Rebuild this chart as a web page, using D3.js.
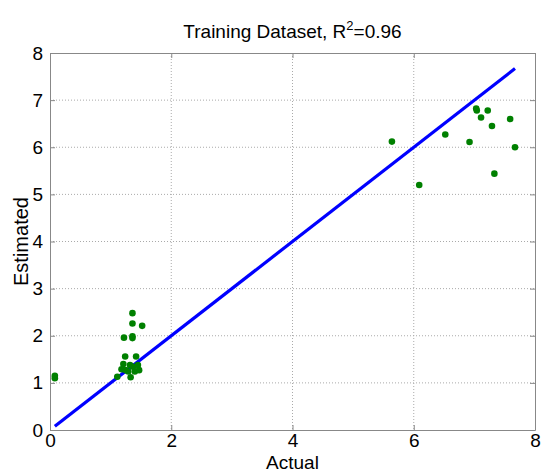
<!DOCTYPE html>
<html>
<head>
<meta charset="utf-8">
<script src="https://cdn.jsdelivr.net/npm/d3@7"></script>
<style>
  body { margin: 0; background: #fff; }
  text { font-family: "Liberation Sans", Arial, sans-serif; fill: #000; }
</style>
</head>
<body>
<div id="chart"></div>
<script>
// data
var actual = [0.08, 0.08, 1.11, 1.36, 1.36, 1.52, 1.22, 1.36, 1.36, 1.24, 1.42, 1.21, 1.32,
              1.18, 1.25, 1.37, 1.45, 1.47, 1.33, 1.40, 1.29,
              7.03, 7.04, 7.22, 7.11, 7.29, 7.59, 6.52, 6.92, 5.64, 7.67, 7.33, 6.09];
var estimated = [1.15, 1.10, 1.13, 2.48, 2.26, 2.21, 1.96, 1.99, 1.95, 1.56, 1.56, 1.40, 1.38,
                 1.29, 1.27, 1.34, 1.38, 1.27, 1.12, 1.24, 1.24,
                 6.82, 6.78, 6.78, 6.63, 6.45, 6.60, 6.27, 6.11, 6.12, 6.00, 5.44, 5.20];
var fitLine = [[0.08, 0.08], [7.67, 7.67]];
var xTicks = [0, 2, 4, 6, 8];
var yTicks = [0, 1, 2, 3, 4, 5, 6, 7, 8];

var margin = {top: 53, right: 7, bottom: 44, left: 50},
    width = 542 - margin.left - margin.right,
    height = 474 - margin.top - margin.bottom;

var x = d3.scaleLinear().domain([0, 8]).range([0, width]);
var y = d3.scaleLinear().domain([0, 8]).range([height, 0]);

var svg = d3.select("#chart").append("svg")
    .attr("width", 542)
    .attr("height", 474);

var g = svg.append("g")
    .attr("transform", "translate(" + margin.left + "," + margin.top + ")");

// grid
g.selectAll(".vgrid")
    .data(xTicks.slice(1, -1))
    .enter().append("line")
    .attr("x1", function(d) { return x(d); })
    .attr("x2", function(d) { return x(d); })
    .attr("y1", 0).attr("y2", height)
    .attr("stroke", "#aaa")
    .attr("stroke-width", 1)
    .attr("stroke-dasharray", "1,2");

g.selectAll(".hgrid")
    .data(yTicks.slice(1, -1))
    .enter().append("line")
    .attr("y1", function(d) { return y(d); })
    .attr("y2", function(d) { return y(d); })
    .attr("x1", 0).attr("x2", width)
    .attr("stroke", "#aaa")
    .attr("stroke-width", 1)
    .attr("stroke-dasharray", "1,2");

// axes (ticks inside, box on all sides)
function styleAxis(sel) {
    sel.selectAll("path").attr("stroke", "#888");
    sel.selectAll("line").attr("stroke", "#888");
    sel.selectAll("text")
        .style("font-size", "19px")
        .style("font-family", "Liberation Sans, Arial, sans-serif")
        .attr("fill", "#000");
}

g.append("g")
    .attr("transform", "translate(0," + height + ")")
    .call(d3.axisBottom(x).tickValues(xTicks).tickSize(-5).tickPadding(4).tickSizeOuter(0))
    .call(styleAxis);

g.append("g")
    .call(d3.axisLeft(y).tickValues(yTicks).tickSize(-5).tickPadding(7).tickSizeOuter(0))
    .call(styleAxis);

g.append("g")
    .call(d3.axisTop(x).tickValues(xTicks).tickSize(-5).tickFormat("").tickSizeOuter(0))
    .call(styleAxis);

g.append("g")
    .attr("transform", "translate(" + width + ",0)")
    .call(d3.axisRight(y).tickValues(yTicks).tickSize(-5).tickFormat("").tickSizeOuter(0))
    .call(styleAxis);

// regression line
g.append("line")
    .attr("x1", x(fitLine[0][0])).attr("y1", y(fitLine[0][1]))
    .attr("x2", x(fitLine[1][0])).attr("y2", y(fitLine[1][1]))
    .attr("stroke", "#0000ff")
    .attr("stroke-width", 3.2);

// points
g.selectAll(".dot")
    .data(actual)
    .enter().append("circle")
    .attr("cx", function(d) { return x(d); })
    .attr("cy", function(d, i) { return y(estimated[i]); })
    .attr("r", 3.3)
    .attr("fill", "#008000");

// title
var title = svg.append("text")
    .attr("x", margin.left + width / 2)
    .attr("y", 38)
    .attr("text-anchor", "middle")
    .style("font-size", "19px");
title.append("tspan").text("Training Dataset, R");
title.append("tspan").attr("dy", -8).style("font-size", "13px").text("2");
title.append("tspan").attr("dy", 8).text("=0.96");

// axis labels
svg.append("text")
    .attr("x", margin.left + width / 2)
    .attr("y", 469)
    .attr("text-anchor", "middle")
    .style("font-size", "19px")
    .text("Actual");

svg.append("text")
    .attr("transform", "translate(28," + (margin.top + height / 2) + ")rotate(-90)")
    .attr("text-anchor", "middle")
    .style("font-size", "20px")
    .text("Estimated");
</script>
</body>
</html>
